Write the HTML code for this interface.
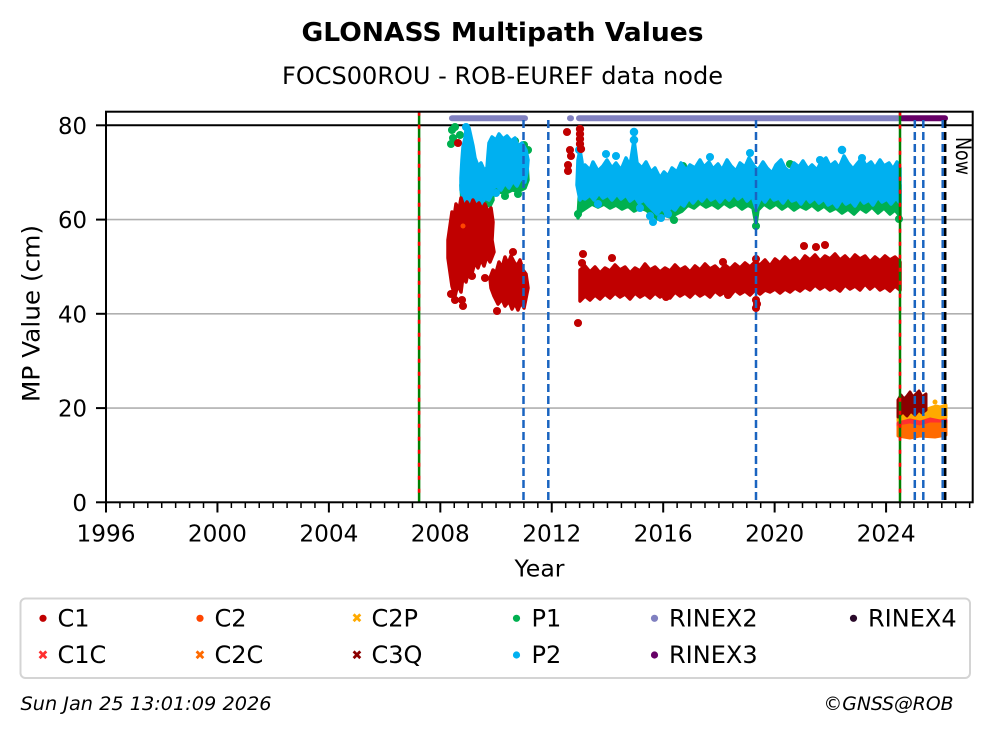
<!DOCTYPE html>
<html><head><meta charset="utf-8"><style>
html,body{margin:0;padding:0;background:#fff;}
svg{display:block;}
text{font-family:"DejaVu Sans","Liberation Sans",sans-serif;fill:#000;}
</style></head><body>
<svg width="992" height="734" viewBox="0 0 992 734" xmlns="http://www.w3.org/2000/svg">
<rect width="992" height="734" fill="#fff"/>
<!-- titles -->
<text x="502.5" y="41" font-size="26" font-weight="bold" text-anchor="middle" textLength="402" lengthAdjust="spacingAndGlyphs">GLONASS Multipath Values</text>
<text x="502.5" y="84" font-size="24" text-anchor="middle" textLength="441" lengthAdjust="spacingAndGlyphs">FOCS00ROU - ROB-EUREF data node</text>

<!-- grid -->
<g stroke="#b0b0b0" stroke-width="1.6">
<line x1="106" y1="408.1" x2="972.7" y2="408.1"/>
<line x1="106" y1="313.8" x2="972.7" y2="313.8"/>
<line x1="106" y1="219.6" x2="972.7" y2="219.6"/>
</g>
<line x1="106" y1="125.3" x2="972.7" y2="125.3" stroke="#000" stroke-width="2"/>

<!-- RINEX bars -->
<g stroke-linecap="round" stroke-width="6">
<line x1="452" y1="118.3" x2="525" y2="118.3" stroke="#8080c0"/>
<line x1="570" y1="118.3" x2="571" y2="118.3" stroke="#8080c0"/>
<line x1="579" y1="118.3" x2="898" y2="118.3" stroke="#8080c0"/>
<line x1="902" y1="118.3" x2="945" y2="118.3" stroke="#660066"/>
</g>

<!-- P1 green (under) -->
<g fill="#00b050" stroke="#00b050" stroke-width="3.5" stroke-linejoin="round">
<polygon points="580,185 900,185 900,216 895,210 890,214 884,208 878,213 872,207 866,212 860,208 854,214 848,209 842,213 836,208 830,211 824,206 818,210 812,205 806,209 800,206 794,210 788,205 782,209 776,204 770,208 764,204 758,210 756,224 753,208 748,205 742,209 736,204 730,207 724,203 718,208 712,204 706,207 700,203 694,208 688,205 682,211 676,214 670,217 664,215 658,219 652,214 646,210 640,208 634,211 628,206 622,209 616,205 610,208 604,204 598,207 592,204 586,208 580,212 578,218"/>
<polygon points="490,170 527,165 528,180 525,188 519,191 512,190 506,193 499,192 493,190 488,184"/>
<polygon points="461,185 492,185 493,200 490,206 484,204 478,207 472,205 466,209 462,202"/>
<circle cx="452" cy="130" r="2.3"/><circle cx="453" cy="138" r="2.3"/><circle cx="455" cy="127" r="2.3"/><circle cx="451" cy="144" r="2.3"/>
<circle cx="463" cy="212" r="2.3"/><circle cx="467" cy="216" r="2.3"/><circle cx="515" cy="141" r="2.3"/><circle cx="524" cy="145" r="2.3"/>
<circle cx="518" cy="194" r="2.3"/><circle cx="505" cy="196" r="2.3"/><circle cx="578" cy="214" r="2.3"/><circle cx="899" cy="219" r="2.3"/>
<circle cx="756" cy="226" r="2.3"/><circle cx="683" cy="166" r="2.3"/><circle cx="790" cy="164" r="2.3"/><circle cx="460" cy="135" r="2.3"/>
<circle cx="528" cy="150" r="2.3"/><circle cx="674" cy="220" r="2.3"/>
</g>

<!-- P2 blue -->
<g fill="#00b0f0" stroke="#00b0f0" stroke-width="3.5" stroke-linejoin="round">
<polygon points="580,172 585,165 590,170 593,162 598,171 603,166 607,160 612,168 616,163 621,170 626,158 630,166 634,140 637,163 642,168 646,162 651,172 655,168 660,178 664,172 668,176 672,168 677,172 681,163 686,170 690,165 695,168 700,160 704,167 709,162 713,169 718,164 722,170 727,160 731,166 736,171 740,163 745,167 749,158 754,166 758,170 763,162 767,168 772,173 776,165 781,160 785,168 790,172 794,163 799,167 803,161 808,169 812,165 817,170 821,162 826,158 830,166 835,162 839,168 844,156 848,163 853,169 857,164 862,158 866,166 871,162 875,168 880,160 884,166 889,163 893,169 897,162 900,168 900,203 896,198 891,204 887,199 882,202 878,197 873,205 869,200 864,203 860,198 855,206 851,201 846,204 842,199 837,207 833,202 828,205 824,199 819,203 815,198 810,202 806,197 801,204 797,199 792,201 788,196 783,203 779,198 774,200 770,195 765,202 761,197 756,208 752,196 747,201 743,195 738,199 734,194 729,200 725,196 720,202 716,197 711,200 707,195 702,201 698,197 693,203 689,198 684,206 680,203 675,210 671,207 666,213 662,208 657,214 653,210 648,205 644,200 639,203 635,197 630,201 626,195 621,199 617,194 612,200 608,195 603,198 599,193 594,200 590,195 585,199 580,197"/>
<polygon points="461,178 462,160 463,147 465,138 466,130 469,128 471,137 473,146 475,158 478,166 481,163 484,170 487,168 490,176 492,184 492,194 489,200 485,198 482,203 478,199 474,204 470,200 466,203 463,197 461,190"/>
<polygon points="488,155 489,143 492,137 496,140 499,134 503,139 507,136 511,141 515,138 518,146 522,143 526,150 528,160 527,172 525,182 521,178 517,186 513,181 509,188 505,183 501,190 497,186 493,188 489,180 487,168"/>
<polygon points="577,185 578,160 580,150 582,162 584,190 580,200"/>
<circle cx="634" cy="132" r="2.5"/><circle cx="634" cy="140" r="2.5"/><circle cx="750" cy="153" r="2.3"/><circle cx="653" cy="222" r="2.3"/>
<circle cx="650" cy="216" r="2.3"/><circle cx="598" cy="204" r="2.3"/><circle cx="668" cy="214" r="2.3"/><circle cx="640" cy="208" r="2.3"/>
<circle cx="579" cy="150" r="2.3"/><circle cx="496" cy="193" r="2.3"/><circle cx="466" cy="127" r="2.3"/><circle cx="820" cy="160" r="2.3"/>
<circle cx="842" cy="150" r="2.5"/><circle cx="862" cy="158" r="2.3"/><circle cx="710" cy="157" r="2.3"/><circle cx="473" cy="208" r="2.3"/>
<circle cx="661" cy="218" r="2.3"/><circle cx="606" cy="154" r="2.3"/><circle cx="616" cy="156" r="2.3"/>
</g>

<!-- C1 red -->
<g fill="#c00000" stroke="#c00000" stroke-width="3.5" stroke-linejoin="round">
<polygon points="580,270 585,266 590,272 595,267 600,273 605,268 610,271 615,265 620,270 625,267 630,273 635,268 640,271 645,264 650,270 655,267 660,272 665,268 670,271 675,265 680,270 685,267 690,272 695,266 700,270 705,264 710,269 715,266 720,271 725,265 730,269 735,264 740,268 745,263 750,267 755,262 760,265 765,260 770,266 775,259 780,263 785,257 790,262 795,258 800,263 805,256 810,260 815,255 820,261 825,256 830,259 835,254 840,260 845,256 850,261 855,255 860,259 865,256 870,262 875,257 880,261 885,256 890,260 895,257 900,262 900,290 895,286 890,291 885,287 880,290 875,285 870,289 865,284 860,290 855,286 850,289 845,285 840,291 835,287 830,290 825,286 820,289 815,285 810,290 805,287 800,291 795,288 790,292 785,289 780,293 775,289 770,292 765,290 760,294 755,290 750,295 745,291 740,294 735,290 730,296 725,292 720,295 715,291 710,297 705,293 700,296 695,292 690,297 685,293 680,296 675,292 670,298 665,294 660,297 655,293 650,298 645,294 640,297 635,293 630,299 625,294 620,297 615,293 610,298 605,294 600,299 595,295 590,300 585,296 580,301"/>
<polygon points="448,240 450,226 452,212 454,218 456,204 459,210 461,198 464,207 467,202 470,208 473,200 476,206 479,203 482,210 485,204 488,212 491,208 493,222 492,240 494,252 490,262 487,256 484,266 481,259 478,268 475,262 472,273 469,268 466,282 463,276 461,292 458,284 455,296 452,286 450,272 448,258"/>
<polygon points="490,278 493,270 496,273 499,262 502,268 505,257 508,264 511,256 514,262 517,266 520,260 523,270 526,274 528,288 526,298 524,308 521,302 518,310 515,303 512,309 509,301 505,306 502,299 498,304 494,296 491,288"/>
<circle cx="580" cy="129" r="2.4"/><circle cx="580" cy="134" r="2.4"/><circle cx="580" cy="139" r="2.4"/><circle cx="580" cy="144" r="2.4"/><circle cx="581" cy="149" r="2.4"/>
<circle cx="451" cy="294" r="2.3"/><circle cx="462" cy="300" r="2.3"/><circle cx="463" cy="306" r="2.3"/><circle cx="455" cy="300" r="2.3"/>
<circle cx="472" cy="276" r="2.3"/><circle cx="485" cy="278" r="2.3"/><circle cx="513" cy="252" r="2.3"/><circle cx="497" cy="311" r="2.3"/>
<circle cx="458" cy="143" r="2.3"/><circle cx="567" cy="132" r="2.3"/><circle cx="570" cy="150" r="2.3"/><circle cx="571" cy="156" r="2.3"/>
<circle cx="568" cy="165" r="2.3"/><circle cx="568" cy="171" r="2.3"/><circle cx="578" cy="323" r="2.3"/><circle cx="582" cy="263" r="2.3"/>
<circle cx="583" cy="254" r="2.3"/><circle cx="756" cy="300" r="2.3"/><circle cx="756" cy="308" r="2.3"/><circle cx="757" cy="304" r="2.3"/>
<circle cx="756" cy="259" r="2.3"/><circle cx="804" cy="246" r="2.3"/><circle cx="816" cy="247" r="2.3"/><circle cx="825" cy="245" r="2.3"/>
<circle cx="723" cy="262" r="2.3"/><circle cx="666" cy="297" r="2.3"/><circle cx="612" cy="258" r="2.3"/><circle cx="728" cy="295" r="2.3"/>
</g>
<circle cx="463" cy="226" r="2.5" fill="#ff4500"/>

<!-- post 2024.5 -->
<g stroke-linejoin="round" stroke-width="3">
<polygon fill="#ffaa00" stroke="#ffaa00" points="898,412 926,410 930,408 936,406 940,407 946,405 946,418 940,420 930,419 920,421 910,422 898,421"/>
<circle cx="935" cy="402" r="2.5" fill="#ffaa00"/>
<polygon fill="#8b0000" stroke="#8b0000" points="898,400 901,395 904,399 907,396 910,392 913,397 916,394 919,391 922,397 926,394 926,410 922,413 919,410 915,415 911,411 907,416 903,412 898,417"/>
<polygon fill="#ff3030" stroke="#ff3030" points="898,423 910,420 920,422 930,419 940,421 946,420 946,430 898,432"/>
<polygon fill="#ff6a00" stroke="#ff6a00" points="898,427 910,425 920,427 930,424 946,424 946,435 935,437 920,436 910,438 898,436"/>
</g>

<!-- vertical lines -->
<g stroke-width="2.5">
<line x1="419.1" y1="111.7" x2="419.1" y2="502.3" stroke="#008000"/>
<line x1="419.1" y1="111.7" x2="419.1" y2="502.3" stroke="#ff0000" stroke-dasharray="4 9"/>
<line x1="900" y1="111.7" x2="900" y2="502.3" stroke="#008000"/>
<line x1="900" y1="111.7" x2="900" y2="502.3" stroke="#ff0000" stroke-dasharray="4 9"/>
<g stroke="#1a64c0" stroke-dasharray="8 4">
<line x1="523.5" y1="120" x2="523.5" y2="502.3"/>
<line x1="548.3" y1="120" x2="548.3" y2="502.3"/>
<line x1="756" y1="120" x2="756" y2="502.3"/>
<line x1="914.8" y1="120" x2="914.8" y2="502.3"/>
<line x1="923.3" y1="120" x2="923.3" y2="502.3"/>
<line x1="942.7" y1="120" x2="942.7" y2="502.3"/>
</g>
<line x1="945.2" y1="120" x2="945.2" y2="502.3" stroke="#000" stroke-dasharray="8 4"/>
</g>
<text transform="translate(956,137) rotate(90)" font-size="21" textLength="38" lengthAdjust="spacingAndGlyphs">Now</text>

<!-- axes frame -->
<rect x="106" y="111.7" width="866.7" height="390.6" fill="none" stroke="#000" stroke-width="2"/>

<!-- y ticks -->
<g stroke="#000" stroke-width="2">
<line x1="96" y1="502.3" x2="106" y2="502.3"/>
<line x1="96" y1="408.1" x2="106" y2="408.1"/>
<line x1="96" y1="313.8" x2="106" y2="313.8"/>
<line x1="96" y1="219.6" x2="106" y2="219.6"/>
<line x1="96" y1="125.3" x2="106" y2="125.3"/>
</g>
<g font-size="23" text-anchor="end">
<text x="87" y="510.8">0</text>
<text x="87" y="416.6" textLength="29" lengthAdjust="spacingAndGlyphs">20</text>
<text x="87" y="322.3" textLength="29" lengthAdjust="spacingAndGlyphs">40</text>
<text x="87" y="228.1" textLength="29" lengthAdjust="spacingAndGlyphs">60</text>
<text x="87" y="133.8" textLength="29" lengthAdjust="spacingAndGlyphs">80</text>
</g>

<!-- x ticks -->
<path stroke="#000" stroke-width="1.5" d="M119.93 502V508M133.86 502V508M147.79 502V508M161.72 502V508M175.65 502V508M189.58 502V508M203.51 502V508M231.37 502V508M245.3 502V508M259.23 502V508M273.16 502V508M287.09 502V508M301.02 502V508M314.95 502V508M342.81 502V508M356.74 502V508M370.67 502V508M384.6 502V508M398.53 502V508M412.46 502V508M426.39 502V508M454.25 502V508M468.18 502V508M482.11 502V508M496.04 502V508M509.97 502V508M523.9 502V508M537.83 502V508M565.69 502V508M579.62 502V508M593.55 502V508M607.48 502V508M621.41 502V508M635.34 502V508M649.27 502V508M677.13 502V508M691.06 502V508M704.99 502V508M718.92 502V508M732.85 502V508M746.78 502V508M760.71 502V508M788.57 502V508M802.5 502V508M816.43 502V508M830.36 502V508M844.29 502V508M858.22 502V508M872.15 502V508M900.01 502V508M913.94 502V508M927.87 502V508M941.8 502V508M955.73 502V508M969.66 502V508"/>
<path stroke="#000" stroke-width="2" d="M106 502V512.5M217.44 502V512.5M328.88 502V512.5M440.32 502V512.5M551.76 502V512.5M663.2 502V512.5M774.64 502V512.5M886.08 502V512.5"/>
<g font-size="23" text-anchor="middle">
<text x="106" y="541.5" textLength="59" lengthAdjust="spacingAndGlyphs">1996</text>
<text x="217.44" y="541.5" textLength="59" lengthAdjust="spacingAndGlyphs">2000</text>
<text x="328.88" y="541.5" textLength="59" lengthAdjust="spacingAndGlyphs">2004</text>
<text x="440.32" y="541.5" textLength="59" lengthAdjust="spacingAndGlyphs">2008</text>
<text x="551.76" y="541.5" textLength="59" lengthAdjust="spacingAndGlyphs">2012</text>
<text x="663.2" y="541.5" textLength="59" lengthAdjust="spacingAndGlyphs">2016</text>
<text x="774.64" y="541.5" textLength="59" lengthAdjust="spacingAndGlyphs">2020</text>
<text x="886.08" y="541.5" textLength="59" lengthAdjust="spacingAndGlyphs">2024</text>
</g>
<text x="539.5" y="576.7" font-size="23" text-anchor="middle" textLength="50" lengthAdjust="spacingAndGlyphs">Year</text>
<text transform="translate(39.5,313.5) rotate(-90)" font-size="24" text-anchor="middle" textLength="177" lengthAdjust="spacingAndGlyphs">MP Value (cm)</text>

<!-- legend -->
<rect x="20.5" y="598.5" width="949.5" height="79.5" rx="5" fill="#fff" stroke="#d4d4d4" stroke-width="2"/>
<g font-size="24">
<circle cx="43" cy="618.3" r="3.6" fill="#c00000"/><text x="57.5" y="626.5">C1</text>
<circle cx="200" cy="618.3" r="3.6" fill="#ff4500"/><text x="214.5" y="626.5">C2</text>
<text x="357" y="622.5" font-size="13" font-weight="bold" text-anchor="middle" style="fill:#ffaa00">✖</text><text x="371.5" y="626.5">C2P</text>
<circle cx="516.5" cy="618.3" r="3.6" fill="#00b050"/><text x="531.5" y="626.5">P1</text>
<circle cx="654.5" cy="618.3" r="3.6" fill="#8080c0"/><text x="669" y="626.5">RINEX2</text>
<circle cx="853.5" cy="618.3" r="3.6" fill="#2a0a2a"/><text x="868" y="626.5">RINEX4</text>
<text x="43" y="659.3" font-size="13" font-weight="bold" text-anchor="middle" style="fill:#ff3030">✖</text><text x="57.5" y="663">C1C</text>
<text x="200" y="659.3" font-size="13" font-weight="bold" text-anchor="middle" style="fill:#ff6a00">✖</text><text x="214.5" y="663">C2C</text>
<text x="357" y="659.3" font-size="13" font-weight="bold" text-anchor="middle" style="fill:#8b0000">✖</text><text x="371.5" y="663">C3Q</text>
<circle cx="516.5" cy="655" r="3.6" fill="#00b0f0"/><text x="531.5" y="663">P2</text>
<circle cx="654.5" cy="655" r="3.6" fill="#660066"/><text x="669" y="663">RINEX3</text>
</g>

<!-- footer -->
<text x="20.5" y="710" font-size="19" font-style="italic" textLength="251" lengthAdjust="spacingAndGlyphs">Sun Jan 25 13:01:09 2026</text>
<text x="953.5" y="710" font-size="19" font-style="italic" text-anchor="end" textLength="130" lengthAdjust="spacingAndGlyphs">©GNSS@ROB</text>
</svg>
</body></html>
